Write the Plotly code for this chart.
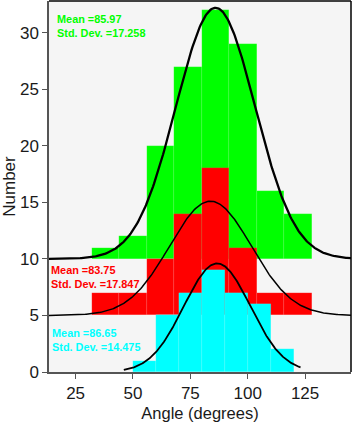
import numpy as np
import plotly.graph_objects as go

# Bin edges (degrees)
green_edges = [32, 44, 56, 68, 80, 92, 104, 116, 128]
red_edges = [32, 44, 56, 68, 80, 92, 104, 116, 128]
cyan_edges = [50, 60, 70, 80, 90, 100, 110, 120]

# Counts per bin
green_counts = [1, 2, 10, 17, 22, 19, 6, 4]
red_counts = [2, 2, 5, 9, 13, 6, 2, 2]
cyan_counts = [1, 5, 7, 9, 7, 6, 2]

# Baseline offsets of each histogram
green_base = 10
red_base = 5
cyan_base = 0

# Normal fit parameters (mean, sd, peak height)
green_fit = (85.97, 17.258, 22.2)
red_fit = (83.75, 17.847, 10.1)
cyan_fit = (86.65, 14.475, 9.6)

x_range = [13.4, 145]
cyan_curve_range = [46, 123]

GREEN = "#00ff00"
RED = "#ff0000"
CYAN = "#00ffff"

fig = go.Figure()


def add_hist(edges, counts, base, color):
    centers = [(a + b) / 2 for a, b in zip(edges[:-1], edges[1:])]
    widths = [b - a for a, b in zip(edges[:-1], edges[1:])]
    fig.add_trace(go.Bar(
        x=centers, y=counts, base=[base] * len(counts), width=widths,
        marker=dict(color=color, line=dict(width=0.4, color="rgba(255,255,255,0.2)")),
        showlegend=False, hoverinfo="skip"))


def add_curve(fit, base, xr, width):
    m, s, h = fit
    xs = np.linspace(xr[0], xr[1], 300)
    ys = base + h * np.exp(-0.5 * ((xs - m) / s) ** 2)
    fig.add_trace(go.Scatter(x=xs, y=ys, mode="lines",
                             line=dict(color="black", width=width),
                             showlegend=False, hoverinfo="skip"))


add_hist(green_edges, green_counts, green_base, GREEN)
add_hist(red_edges, red_counts, red_base, RED)
add_hist(cyan_edges, cyan_counts, cyan_base, CYAN)

add_curve(green_fit, green_base, x_range, 2.3)
add_curve(red_fit, red_base, x_range, 1.5)
add_curve(cyan_fit, cyan_base, cyan_curve_range, 1.8)

font_fam = "Liberation Sans, Arial, sans-serif"

L, R, T, B = 49, 2, 1, 47
W, H = 353, 422
pw, ph = W - L - R, H - T - B

annots = [
    (f"Mean ={green_fit[0]:.2f}<br>Std. Dev. ={green_fit[1]:.3f}", GREEN, 56, 12),
    (f"Mean ={red_fit[0]:.2f}<br>Std. Dev. ={red_fit[1]:.3f}", RED, 50, 265),
    (f"Mean ={cyan_fit[0]:.2f}<br>Std. Dev. ={cyan_fit[1]:.3f}", CYAN, 51, 329),
]
for text, color, px, py in annots:
    fig.add_annotation(
        text=f"<b>{text}</b>", x=(px - L) / pw, y=1 - (py - T) / ph,
        xref="paper", yref="paper", xanchor="left", yanchor="top",
        showarrow=False, align="left", borderpad=0,
        font=dict(color=color, size=10.9, family=font_fam))

# top and right black border
fig.add_shape(type="line", xref="paper", yref="paper", x0=0, x1=1, y0=1, y1=1,
              line=dict(color="black", width=1.5))
fig.add_shape(type="line", xref="paper", yref="paper", x0=1, x1=1, y0=0, y1=1,
              line=dict(color="black", width=1.5))

fig.update_layout(
    width=W, height=H,
    margin=dict(l=L, r=R, t=T, b=B),
    paper_bgcolor="white", plot_bgcolor="#f5f5f5",
    barmode="overlay", bargap=0,
    font=dict(family=font_fam, size=17, color="#1a1a1a"),
    xaxis=dict(range=x_range, tickvals=[25, 50, 75, 100, 125],
               showgrid=False, zeroline=False, showline=True,
               linecolor="#555555", linewidth=1.5, ticks="outside",
               ticklen=5, tickcolor="#555555",
               title=dict(text="Angle (degrees)", standoff=6,
                          font=dict(size=16.5))),
    yaxis=dict(range=[0, 32.8], tickvals=[0, 5, 10, 15, 20, 25, 30],
               showgrid=False, zeroline=False, showline=True,
               linecolor="#555555", linewidth=1.5, ticks="outside",
               ticklen=5, tickcolor="#555555",
               title=dict(text="Number", standoff=4, font=dict(size=17))),
)

fig.write_html("out.html", config={"displayModeBar": False})
with open("out.html", "r", encoding="utf-8") as f:
    html = f.read()
html = html.replace("<head>", "<head><style>html,body{margin:0;padding:0;overflow:hidden;}</style>", 1)
with open("out.html", "w", encoding="utf-8") as f:
    f.write(html)
